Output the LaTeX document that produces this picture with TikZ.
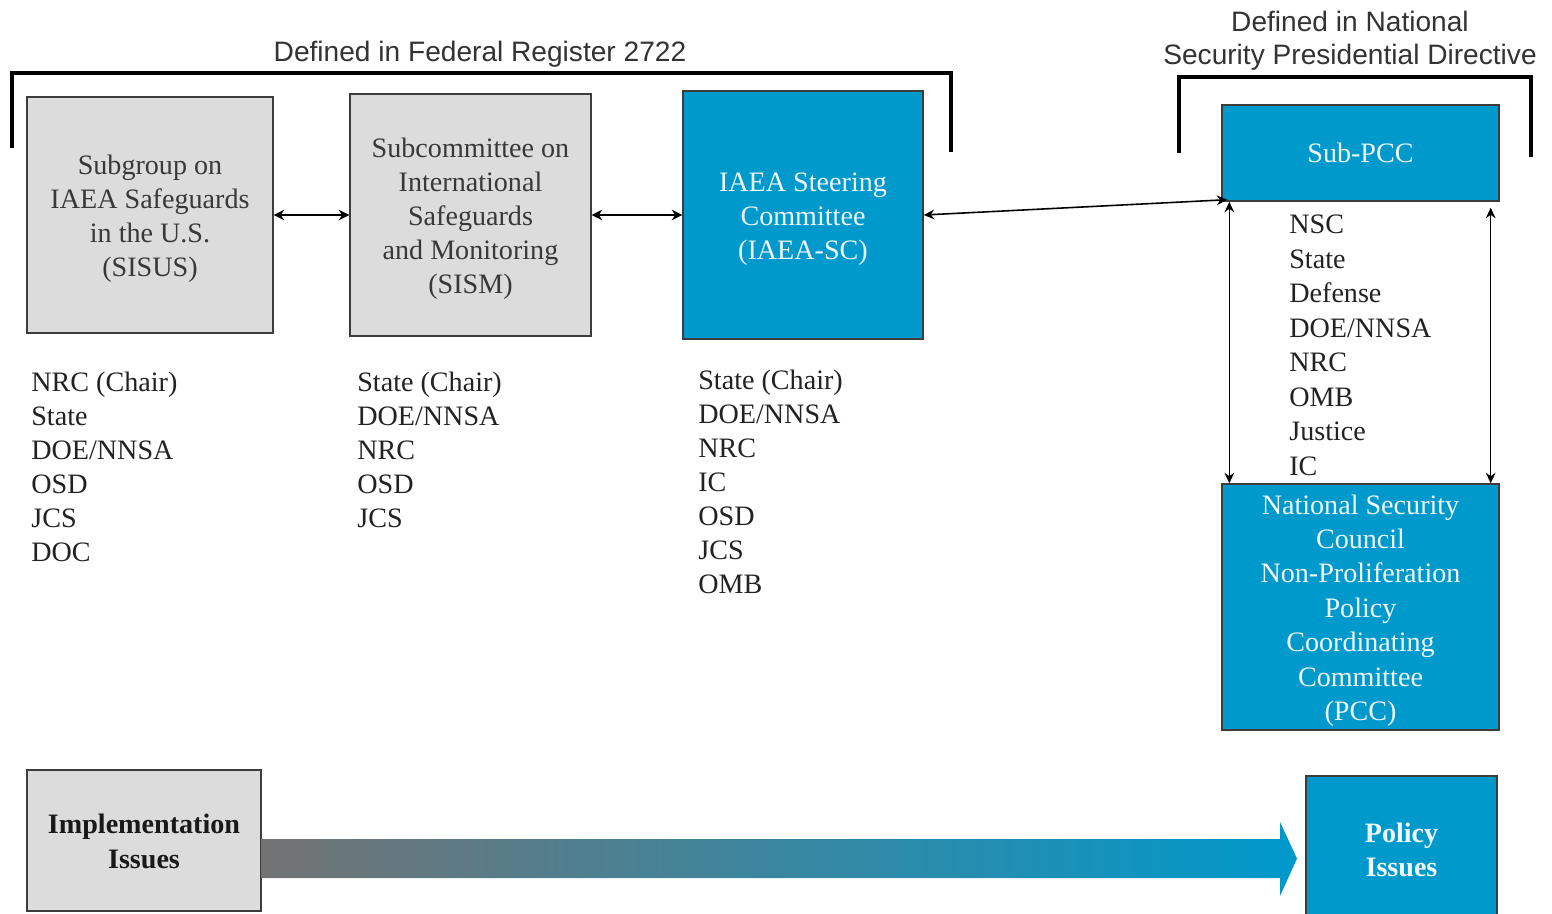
\documentclass[tikz,border=0pt]{standalone}
\usepackage{fontspec}
\setmainfont{Liberation Serif}
\newfontfamily\labelfont{Liberation Sans}
\usetikzlibrary{arrows.meta,calc}
\definecolor{boxblue}{HTML}{0099CC}
\definecolor{boxgray}{HTML}{DCDCDC}
\definecolor{edgegray}{HTML}{3C3C3C}
\definecolor{txtgray}{HTML}{383838}
\definecolor{txtwhite}{HTML}{EEF7FB}
\definecolor{listtxt}{HTML}{222222}
\definecolor{arrgray}{HTML}{737373}
\newcommand\boxtext[1]{\raisebox{-0.07cm}[\height][\depth]{\begin{tabular}{@{}c@{}}#1\end{tabular}}}
\begin{document}
\begin{tikzpicture}[x=0.02cm,y=-0.02cm,
 box/.style={draw=edgegray, line width=0.8pt, inner sep=0pt, align=center, font=\fontsize{16}{19.3}\selectfont},
 graybox/.style={box, fill=boxgray, text=txtgray},
 bluebox/.style={box, fill=boxblue, text=txtwhite},
 listtext/.style={anchor=north west, inner sep=0pt, align=left, text=listtxt, font=\fontsize{16}{19.3}\selectfont},
 toplabel/.style={inner sep=0pt, align=center, text=black!80, font=\labelfont\fontsize{16}{18.7}\selectfont},
 bracket/.style={line width=2.3pt, line cap=butt, line join=miter},
 link/.style={line width=1.2pt, {Stealth[length=6pt,width=6pt]}-{Stealth[length=6pt,width=6pt]}},
 vlink/.style={line width=0.9pt, {Stealth[length=6pt,width=5.5pt]}-{Stealth[length=6pt,width=5.5pt]}},
]
\fill[white] (0,0) rectangle (1552,913);
\useasboundingbox (0,0) rectangle (1552,913);

% top labels and brackets
\node[toplabel] (fedlabel) at (480,54) {Defined in Federal Register 2722};
\node[toplabel] (nsplabel) at (1350,41) {Defined in National\\Security Presidential Directive};
\draw[bracket] (12,148) -- (12,73) -- (951,73) -- (951,152);
\draw[bracket] (1179,153) -- (1179,77) -- (1531,77) -- (1531,157);

% boxes
\node[graybox, minimum width=4.92cm, minimum height=4.72cm] (sisus) at (150,215)
  {\boxtext{Subgroup on\\IAEA Safeguards\\in the U.S.\\(SISUS)}};
\node[graybox, minimum width=4.82cm, minimum height=4.84cm] (sism) at (470.5,215)
  {\boxtext{Subcommittee on\\International\\Safeguards\\and Monitoring\\(SISM)}};
\node[bluebox, minimum width=4.80cm, minimum height=4.96cm] (sc) at (803,215)
  {\boxtext{IAEA Steering\\Committee\\(IAEA-SC)}};
\node[bluebox, minimum width=5.54cm, minimum height=1.92cm] (subpcc) at (1360.5,153)
  {Sub-PCC};
\node[bluebox, minimum width=5.54cm, minimum height=4.92cm, font=\fontsize{16}{19.6}\selectfont] (pcc) at (1360.5,607)
  {\boxtext{National Security\\Council\\Non-Proliferation\\Policy\\Coordinating\\Committee\\(PCC)}};
\node[graybox, text=black!90, font=\bfseries\fontsize{16}{19.6}\selectfont, minimum width=4.68cm, minimum height=2.82cm] (impl) at (144,840.5)
  {\boxtext{Implementation\\Issues}};
\node[bluebox, font=\bfseries\fontsize{16}{19.6}\selectfont, minimum width=3.82cm, minimum height=2.96cm] (policy) at (1401.5,850)
  {Policy\\Issues};

% member lists
\node[listtext] (sisuslist) at (31,372)
  {NRC (Chair)\\State\\DOE/NNSA\\OSD\\JCS\\DOC};
\node[listtext] (sismlist) at (357,372)
  {State (Chair)\\DOE/NNSA\\NRC\\OSD\\JCS};
\node[listtext] (sclist) at (698,370)
  {State (Chair)\\DOE/NNSA\\NRC\\IC\\OSD\\JCS\\OMB};
\node[listtext, font=\fontsize{16}{19.6}\selectfont] (pcclist) at (1289,215)
  {NSC\\State\\Defense\\DOE/NNSA\\NRC\\OMB\\Justice\\IC};

% connectors
\draw[link] (sisus.east) -- (sism.west);
\draw[link] (sism.east) -- (sc.west);
\draw[vlink] (sc.east) -- ([xshift=0.12cm,yshift=0.04cm]subpcc.south west);
\draw[vlink] ([xshift=0.16cm]subpcc.south west) -- ([xshift=0.16cm]pcc.north west);
\draw[vlink] ([xshift=-0.18cm,yshift=-0.12cm]subpcc.south east) -- ([xshift=-0.18cm]pcc.north east);

% big gradient arrow
\shade[left color=arrgray, right color=boxblue]
  (impl.east |- 0,839) -- (1280,839) -- (1280,822) -- (1297,858.5) -- (1280,896) -- (1280,878) -- (impl.east |- 0,878) -- cycle;
\end{tikzpicture}
\end{document}
